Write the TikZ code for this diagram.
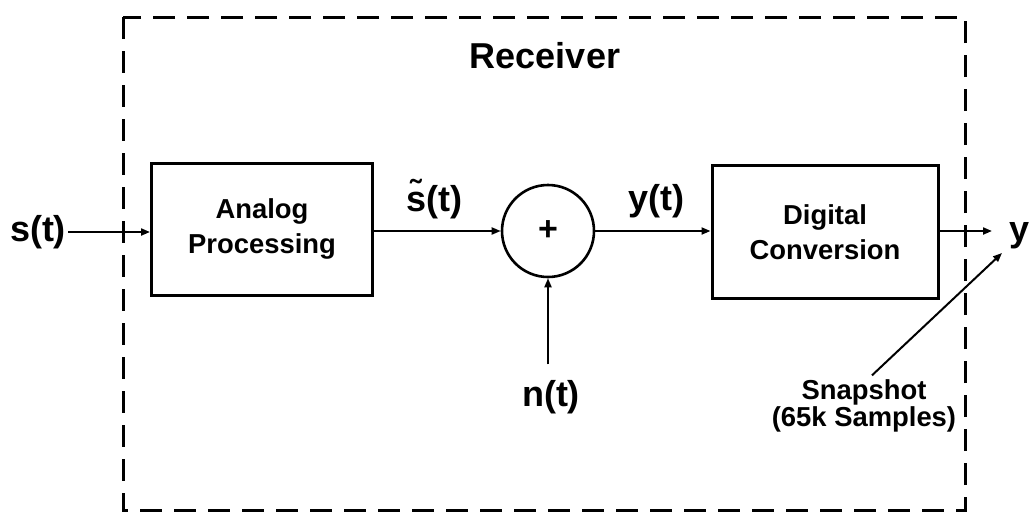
\documentclass[tikz,border=0pt]{standalone}
\usepackage{fontspec}
\setmainfont{Liberation Sans}
\usetikzlibrary{arrows.meta,positioning}

\begin{document}
\begin{tikzpicture}[x=0.5pt,y=-0.5pt,
    blk/.style={draw, line width=1.5pt, align=center, font=\bfseries\fontsize{13.7}{17.5}\selectfont, inner sep=0pt},
    sumc/.style={draw, circle, line width=1.3pt, minimum size=46pt, inner sep=0pt, font=\bfseries\fontsize{17}{18}\selectfont},
    sig/.style={line width=1pt, -{Triangle[length=4.5pt,width=3.5pt]}},
    lbl/.style={font=\bfseries\fontsize{18}{20}\selectfont, inner sep=1pt},
    note/.style={font=\bfseries\fontsize{13.7}{13.5}\selectfont, align=center, inner sep=1pt}]
    \useasboundingbox (0,0) rectangle (1029,515);

    % receiver boundary
    \draw[line width=1.5pt, dash pattern=on 11pt off 6pt] (123,17) rectangle (965,510);
    \node[font=\bfseries\fontsize{18}{20}\selectfont] (rx) at (545,56) {Receiver};

    % blocks
    \node[blk, minimum width=110.5pt, minimum height=66pt] (ana) at (262,229) {Analog\\Processing};
    \node[sumc] (sum) at (548,231) {+};
    \node[blk, minimum width=113pt, minimum height=66.5pt] (dig) at (825,232) {Digital\\Conversion};

    % signals
    \node[lbl] (sin) at (38,232) {s(t)};
    \node[lbl] (st) at (434,199) {\~{s}(t)};
    \node[lbl] (yt) at (656,201) {y(t)};
    \node[lbl] (nt) at (551,397) {n(t)};
    \node[lbl] (yout) at (1020,236) {y};
    \node[note] (snap) at (864,406) {Snapshot\\(65k Samples)};
    \coordinate (snaptip) at (1002,253);

    % connectors
    \draw[sig] (sin.east) -- (sin.east -| ana.west);
    \draw[sig] (sum.west -| ana.east) -- (sum.west);
    \draw[sig] (sum.east) -- (sum.east -| dig.west);
    \draw[sig] (sum.south) ++(0,86) -- (sum.south);
    \draw[sig] (dig.east |- sum.east) -- (992,231);
    \draw[sig] (snap.north) ++(8,-2) -- (snaptip);
\end{tikzpicture}
\end{document}
